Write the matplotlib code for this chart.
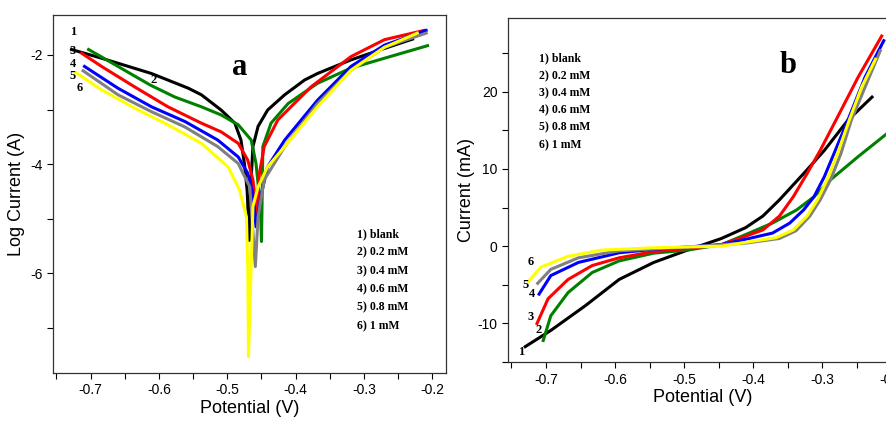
import numpy as np
import matplotlib
matplotlib.use('Agg')
import matplotlib.pyplot as plt
from matplotlib.ticker import MultipleLocator, FormatStrFormatter

plt.rcParams['axes.unicode_minus'] = False
plt.rcParams['font.family'] = ['Liberation Sans Narrow', 'Liberation Sans', 'DejaVu Sans']

colors = ['black', '#008000', 'red', 'blue', 'gray', 'yellow']
labels = ['1) blank', '2) 0.2 mM', '3) 0.4 mM', '4) 0.6 mM', '5) 0.8 mM', '6) 1 mM']

# (a) Tafel curves: potential (V) vs log current (A)
tafel_x = [
    [-0.728, -0.684, -0.611, -0.557, -0.538, -0.509, -0.489, -0.480, -0.475, -0.471, -0.469, -0.468,
     -0.467, -0.466, -0.4635, -0.4625, -0.455, -0.441, -0.416, -0.387, -0.368, -0.319, -0.270, -0.229],
    [-0.703, -0.660, -0.613, -0.577, -0.538, -0.509, -0.484, -0.465, -0.458, -0.453, -0.451, -0.450,
     -0.449, -0.448, -0.436, -0.411, -0.382, -0.368, -0.319, -0.270, -0.207],
    [-0.713, -0.684, -0.635, -0.587, -0.538, -0.509, -0.484, -0.470, -0.4625, -0.459, -0.458,
     -0.453, -0.446, -0.426, -0.402, -0.377, -0.319, -0.270, -0.212],
    [-0.709, -0.660, -0.611, -0.562, -0.514, -0.484, -0.470, -0.4625, -0.458,
     -0.450, -0.441, -0.416, -0.368, -0.319, -0.270, -0.209],
    [-0.711, -0.660, -0.611, -0.562, -0.514, -0.484, -0.467, -0.459,
     -0.455, -0.446, -0.416, -0.368, -0.319, -0.270, -0.209],
    [-0.722, -0.684, -0.635, -0.587, -0.538, -0.499, -0.482, -0.472, -0.470, -0.469,
     -0.4625, -0.455, -0.441, -0.416, -0.368, -0.319, -0.270, -0.222],
]
tafel_y = [
    [-1.90, -2.06, -2.34, -2.61, -2.73, -3.01, -3.25, -3.56, -3.99, -4.48, -5.03, -5.40,
     -5.00, -4.50, -3.90, -3.68, -3.31, -3.01, -2.73, -2.46, -2.34, -2.09, -1.88, -1.71],
    [-1.90, -2.21, -2.55, -2.77, -2.95, -3.10, -3.28, -3.56, -3.99, -4.60, -5.00, -5.42,
     -4.60, -3.68, -3.25, -2.89, -2.64, -2.52, -2.24, -2.06, -1.83],
    [-1.97, -2.21, -2.59, -2.95, -3.25, -3.41, -3.62, -3.93, -4.29, -4.66, -4.97,
     -4.17, -3.68, -3.19, -2.89, -2.58, -2.03, -1.72, -1.55],
    [-2.21, -2.61, -2.95, -3.22, -3.56, -3.87, -4.17, -4.54, -5.15,
     -4.54, -4.05, -3.56, -2.83, -2.21, -1.82, -1.55],
    [-2.29, -2.73, -3.04, -3.32, -3.68, -3.99, -4.42, -5.88,
     -4.97, -4.29, -3.68, -2.89, -2.28, -1.86, -1.60],
    [-2.32, -2.64, -2.98, -3.28, -3.62, -4.05, -4.48, -4.97, -5.88, -7.53,
     -4.78, -4.42, -4.05, -3.68, -2.95, -2.28, -1.86, -1.60],
]

# (b) polarization curves: potential (V) vs current (mA)
pol_x = [
    [-0.730, -0.693, -0.643, -0.594, -0.544, -0.495, -0.446, -0.411, -0.386, -0.362, -0.327, -0.297,
     -0.263, -0.228],
    [-0.704, -0.693, -0.668, -0.633, -0.594, -0.544, -0.495, -0.446, -0.411, -0.372, -0.337, -0.312,
     -0.288, -0.248, -0.206],
    [-0.713, -0.697, -0.668, -0.633, -0.594, -0.544, -0.495, -0.446, -0.411, -0.386, -0.362, -0.342,
     -0.322, -0.303, -0.278, -0.248, -0.214],
    [-0.710, -0.693, -0.653, -0.594, -0.544, -0.495, -0.446, -0.411, -0.372, -0.347, -0.327, -0.312,
     -0.297, -0.283, -0.263, -0.238, -0.211],
    [-0.712, -0.693, -0.653, -0.594, -0.495, -0.411, -0.362, -0.338, -0.318, -0.303, -0.288, -0.273,
     -0.258, -0.238, -0.216],
    [-0.725, -0.707, -0.668, -0.619, -0.544, -0.446, -0.411, -0.367, -0.342, -0.322, -0.307, -0.293,
     -0.278, -0.261, -0.243, -0.223],
]
pol_y = [
    [-13.0, -10.9, -7.7, -4.3, -2.1, -0.5, 1.0, 2.4, 3.9, 6.0, 9.4, 12.4, 16.3, 19.3],
    [-12.2, -9.0, -6.0, -3.4, -1.9, -0.9, -0.5, 0.2, 1.5, 3.0, 4.7, 6.4, 8.6, 11.6, 14.6],
    [-10.0, -6.8, -4.3, -2.5, -1.5, -0.7, -0.3, 0.2, 1.3, 2.1, 3.9, 6.4, 9.4, 12.4, 16.7, 21.9, 27.2],
    [-6.2, -3.8, -2.1, -0.85, -0.4, -0.1, 0.2, 0.9, 1.7, 3.0, 4.7, 6.4, 9.0, 12.0, 16.3, 21.9, 26.6],
    [-4.8, -3.0, -1.5, -0.6, -0.1, 0.4, 1.0, 2.0, 3.9, 6.0, 8.6, 12.0, 16.3, 20.6, 25.3],
    [-4.5, -2.7, -1.3, -0.5, -0.2, 0.0, 0.5, 1.1, 2.1, 3.9, 6.0, 8.6, 12.0, 16.3, 20.6, 24.2],
]

# curve number labels
tafel_num = ['1', '3', '4', '5', '6', '2']
tafel_num_x = [-0.726, -0.726, -0.726, -0.727, -0.716, -0.608]
tafel_num_y = [-1.58, -1.93, -2.16, -2.38, -2.61, -2.46]
pol_num = ['6', '5', '4', '3', '2', '1']
pol_num_x = [-0.722, -0.730, -0.720, -0.722, -0.711, -0.736]
pol_num_y = [-2.1, -5.0, -6.2, -9.2, -10.9, -13.7]

fig = plt.figure(figsize=(8.87, 4.25), dpi=100)
ax1 = fig.add_axes([0.0598, 0.1224, 0.443, 0.842])
ax2 = fig.add_axes([0.5727, 0.148, 0.44, 0.809])

serif_bold = dict(family=['Liberation Serif', 'DejaVu Serif'], fontweight='bold')

for i in range(6):
    ax1.plot(tafel_x[i], tafel_y[i], color=colors[i], lw=2.2, solid_joinstyle='round')
    ax2.plot(pol_x[i], pol_y[i], color=colors[i], lw=2.2, solid_joinstyle='round')

for t, x, y in zip(tafel_num, tafel_num_x, tafel_num_y):
    ax1.text(x, y, t, ha='center', va='center', fontsize=9, **serif_bold)
for t, x, y in zip(pol_num, pol_num_x, pol_num_y):
    ax2.text(x, y, t, ha='center', va='center', fontsize=9, **serif_bold)

for k, lab in enumerate(labels):
    ax1.text(0.774, 0.388 - k * 0.0514, lab, transform=ax1.transAxes, ha='left', va='center',
             fontsize=8.5, **serif_bold)
    ax2.text(0.080, 0.883 - k * 0.0503, lab, transform=ax2.transAxes, ha='left', va='center',
             fontsize=8.5, **serif_bold)

ax1.text(0.476, 0.855, 'a', transform=ax1.transAxes, ha='center', va='center', fontsize=22, **serif_bold)
ax2.text(0.718, 0.863, 'b', transform=ax2.transAxes, ha='center', va='center', fontsize=22, **serif_bold)

ax1.set_xlim(-0.755, -0.18)
ax1.set_ylim(-7.83, -1.27)
ax1.xaxis.set_major_locator(MultipleLocator(0.1))
ax1.xaxis.set_minor_locator(MultipleLocator(0.05))
ax1.yaxis.set_major_locator(MultipleLocator(2))
ax1.yaxis.set_minor_locator(MultipleLocator(1))
ax1.xaxis.set_major_formatter(FormatStrFormatter('%.1f'))
ax1.yaxis.set_major_formatter(FormatStrFormatter('%d'))
ax1.set_xlabel('Potential (V)', fontsize=13, family=['Liberation Sans', 'DejaVu Sans'], labelpad=2)
ax1.set_ylabel('Log Current (A)', fontsize=13, family=['Liberation Sans', 'DejaVu Sans'], labelpad=4)

ax2.set_xlim(-0.755, -0.19)
ax2.set_ylim(-15, 29.5)
ax2.xaxis.set_major_locator(MultipleLocator(0.1))
ax2.xaxis.set_minor_locator(MultipleLocator(0.05))
ax2.yaxis.set_major_locator(MultipleLocator(10))
ax2.yaxis.set_minor_locator(MultipleLocator(5))
ax2.xaxis.set_major_formatter(FormatStrFormatter('%.1f'))
ax2.yaxis.set_major_formatter(FormatStrFormatter('%d'))
ax2.set_xlabel('Potential (V)', fontsize=13, family=['Liberation Sans', 'DejaVu Sans'], labelpad=2)
ax2.set_ylabel('Current (mA)', fontsize=13, family=['Liberation Sans', 'DejaVu Sans'], labelpad=2)

for ax in (ax1, ax2):
    ax.tick_params(which='major', length=4, width=0.8, labelsize=10, direction='out')
    ax.tick_params(which='minor', length=4, width=0.8, direction='out')
    for s in ax.spines.values():
        s.set_linewidth(0.9)
        s.set_color('#333333')

fig.savefig('out.png', dpi=100)
